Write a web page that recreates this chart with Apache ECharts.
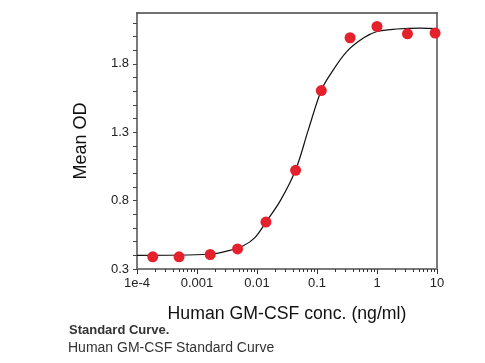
<!DOCTYPE html>
<html><head><meta charset="utf-8">
<script src="https://cdn.jsdelivr.net/npm/echarts@6/dist/echarts.min.js"></script>
<style>html,body{margin:0;padding:0;background:#fff}#c{width:485px;height:363px}</style>
</head><body><div id="c"></div>
<script>
// measured points (concentration ng/ml, mean OD)
const pointX = [0.000183, 0.000502, 0.00166, 0.00474, 0.0141, 0.044, 0.118, 0.356, 1.0, 3.22, 9.3];
const pointY = [0.389, 0.389, 0.406, 0.447, 0.643, 1.022, 1.605, 1.991, 2.074, 2.020, 2.025];
// fitted curve
const curveX = [0.0001, 0.00164, 0.00353, 0.00582, 0.00923, 0.0141, 0.0245, 0.044, 0.0716, 0.1167, 0.165, 0.313, 0.593, 1.0, 2.14, 5.25, 10];
const curveY = [0.400, 0.408, 0.436, 0.468, 0.530, 0.643, 0.800, 1.024, 1.317, 1.602, 1.720, 1.890, 1.989, 2.037, 2.055, 2.062, 2.058];
// axis ticks
const xTickValues = [0.0001, 0.001, 0.01, 0.1, 1, 10];
const xTickLabels = ['1e-4', '0.001', '0.01', '0.1', '1', '10'];
const yTickValues = [0.3, 0.8, 1.3, 1.8];
const yTickLabels = ['0.3', '0.8', '1.3', '1.8'];
const yMinorTicks = [0.3,0.4,0.5,0.6,0.7,0.8,0.9,1.0,1.1,1.2,1.3,1.4,1.5,1.6,1.7,1.8,1.9,2.0,2.1];
const xMinorTicks = [];
[0.0001,0.001,0.01,0.1,1].forEach(d => { for (let k = 2; k <= 9; k++) xMinorTicks.push(+(d*k).toPrecision(3)); });

const FONT = '"Liberation Sans", Arial, sans-serif';
const GREY = '#7a7a7a';
const chart = echarts.init(document.getElementById('c'));
chart.setOption({
  animation: false,
  backgroundColor: '#fff',
  grid: { left: 137, right: 48, top: 13, bottom: 94, containLabel: false },
  xAxis: [
    { type: 'log', position: 'bottom', min: 0.0001, max: 10, logBase: 10,
      axisLine: { show: true, lineStyle: { color: GREY, width: 2 } },
      axisTick: { show: true, length: 5, inside: false, lineStyle: { color: '#333', width: 1 } },
      axisLabel: { margin: 8, color: '#222', fontFamily: FONT, fontSize: 13,
        formatter: v => { const i = xTickValues.findIndex(t => Math.abs(Math.log10(t) - Math.log10(v)) < 1e-6); return i >= 0 ? xTickLabels[i] : ''; } },
      splitLine: { show: false },
      name: 'Human GM-CSF conc. (ng/ml)', nameLocation: 'middle', nameGap: 36,
      nameTextStyle: { fontFamily: FONT, fontSize: 17.7, color: '#111' } },
    { type: 'log', position: 'bottom', min: 0.0001, max: 10, logBase: 10,
      axisLine: { show: false },
      axisTick: { show: true, length: 3, customValues: xMinorTicks, lineStyle: { color: '#333', width: 1 } },
      axisLabel: { show: false }, splitLine: { show: false } },
    { type: 'log', position: 'top', min: 0.0001, max: 10, logBase: 10,
      axisLine: { show: true, lineStyle: { color: '#444', width: 1.5 } },
      axisTick: { show: false }, axisLabel: { show: false }, splitLine: { show: false } }
  ],
  yAxis: [
    { type: 'value', position: 'left', min: 0.3, max: 2.172,
      axisLine: { show: true, lineStyle: { color: GREY, width: 2 } },
      axisTick: { show: true, length: 4, customValues: yMinorTicks, lineStyle: { color: '#444', width: 1 } },
      axisLabel: { margin: 8, color: '#222', fontFamily: FONT, fontSize: 13, customValues: yTickValues,
        formatter: v => { const i = yTickValues.findIndex(t => Math.abs(t - v) < 1e-6); return i >= 0 ? yTickLabels[i] : ''; } },
      splitLine: { show: false },
      name: 'Mean OD', nameLocation: 'middle', nameGap: 47,
      nameTextStyle: { fontFamily: FONT, fontSize: 18, color: '#111' } },
    { type: 'value', position: 'right', min: 0.3, max: 2.172,
      axisLine: { show: true, lineStyle: { color: GREY, width: 2 } },
      axisTick: { show: false }, axisLabel: { show: false }, splitLine: { show: false } }
  ],
  series: [
    { type: 'line', xAxisIndex: 0, yAxisIndex: 0, data: curveX.map((x, i) => [x, curveY[i]]),
      smooth: 0.35, showSymbol: false, lineStyle: { color: '#111', width: 1.2 }, silent: true, z: 2 },
    { type: 'scatter', xAxisIndex: 0, yAxisIndex: 0, data: pointX.map((x, i) => [x, pointY[i]]),
      symbol: 'circle', symbolSize: 11, itemStyle: { color: '#e5212c', opacity: 1 }, clip: false, z: 3 }
  ],
  graphic: [
    { type: 'text', left: 69, top: 324, style: { text: 'Standard Curve.', fontFamily: FONT, fontSize: 13, fontWeight: 'bold', fill: '#333' } },
    { type: 'text', left: 68, top: 341, style: { text: 'Human GM-CSF Standard Curve', fontFamily: FONT, fontSize: 14, fill: '#333' } }
  ]
});
</script></body></html>
